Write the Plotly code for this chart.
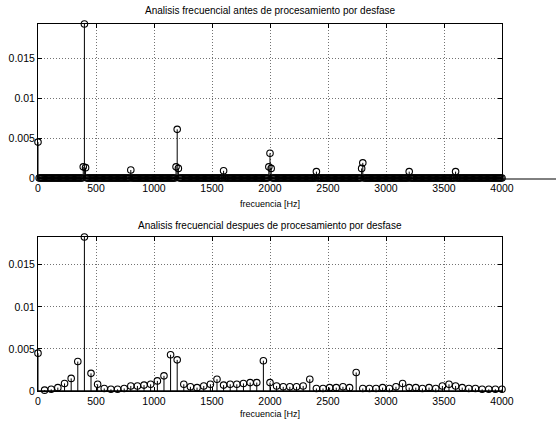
import numpy as np
import plotly.graph_objects as go

# ---------------- data ----------------
# Top plot: spectrum before processing (fine frequency bins, floor ~0, harmonic peaks)
top_bin_step_hz = 10
top_max_hz = 4000
top_peak_hz = [0, 390, 400, 410, 800, 1190, 1200, 1210, 1600, 1990, 2000, 2010,
               2400, 2790, 2800, 3200, 3600]
top_peak_val = [0.0045, 0.0014, 0.0193, 0.0013, 0.0010, 0.0014, 0.0061, 0.0012,
                0.0009, 0.0014, 0.0031, 0.0012, 0.0008, 0.0012, 0.0019, 0.0008, 0.0008]

# Bottom plot: spectrum after processing
bottom_freq_hz = [0, 57, 114, 171, 229, 286, 343, 400, 457, 514, 571, 629, 686, 743, 800,
                  857, 914, 971, 1029, 1086, 1143, 1200, 1257, 1314, 1371, 1429, 1486,
                  1543, 1600, 1657, 1714, 1771, 1829, 1886, 1943, 2000, 2057, 2114, 2171,
                  2229, 2286, 2343, 2400, 2457, 2514, 2571, 2629, 2686, 2743, 2800, 2857,
                  2914, 2971, 3029, 3086, 3143, 3200, 3257, 3314, 3371, 3429, 3486, 3543,
                  3600, 3657, 3714, 3771, 3829, 3886, 3943, 4000]
bottom_val = [0.0045, 0.0001, 0.0002, 0.0004, 0.0009, 0.0015, 0.0035, 0.0183, 0.0021, 0.0008,
              0.0003, 0.0002, 0.0002, 0.0003, 0.0006, 0.0006, 0.0007, 0.0008, 0.0012, 0.0018,
              0.0043, 0.0037, 0.0008, 0.0005, 0.0004, 0.0006, 0.0008, 0.0014, 0.0007, 0.0008,
              0.0008, 0.0009, 0.0010, 0.0010, 0.0036, 0.0010, 0.0006, 0.0005, 0.0005, 0.0005,
              0.0006, 0.0014, 0.0003, 0.0003, 0.0004, 0.0004, 0.0005, 0.0004, 0.0022, 0.0003,
              0.0003, 0.0003, 0.0004, 0.0003, 0.0005, 0.0009, 0.0004, 0.0004, 0.0003, 0.0004,
              0.0003, 0.0006, 0.0008, 0.0006, 0.0004, 0.0003, 0.0003, 0.0002, 0.0002, 0.0002,
              0.0002]

x_ticks = [0, 500, 1000, 1500, 2000, 2500, 3000, 3500, 4000]
y_ticks = [0, 0.005, 0.01, 0.015]
y_tick_labels = ["0", "0.005", "0.01", "0.015"]

title_top = "Analisis frecuencial antes de procesamiento por desfase"
title_bottom = "Analisis frecuencial despues de procesamiento por desfase"
x_label = "frecuencia [Hz]"

# ---------------- build top spectrum ----------------
top_freq = np.arange(0, top_max_hz + top_bin_step_hz, top_bin_step_hz)
top_val = np.zeros(len(top_freq))
for f, v in zip(top_peak_hz, top_peak_val):
    top_val[int(round(f / top_bin_step_hz))] = v


def stem_lines(xs, ys):
    lx, ly = [], []
    for x, y in zip(xs, ys):
        if y > 0:
            lx += [x, x, None]
            ly += [0, y, None]
    return lx, ly


W, H = 558, 424
FONT = "Liberation Sans, Arial, sans-serif"
x0p, x1p = 38 / W, 502 / W
top_dom = [1 - 178 / H, 1 - 24 / H]
bot_dom = [1 - 391 / H, 1 - 237 / H]

fig = go.Figure()

for (xs, ys, xa, ya) in [(top_freq, top_val, "x", "y"), (bottom_freq_hz, bottom_val, "x2", "y2")]:
    lx, ly = stem_lines(xs, ys)
    fig.add_trace(go.Scatter(x=lx, y=ly, mode="lines", line=dict(color="black", width=1),
                             xaxis=xa, yaxis=ya, showlegend=False, hoverinfo="skip"))
    fig.add_trace(go.Scatter(x=[0, 4000], y=[0, 0], mode="lines",
                             line=dict(color="black", width=1.5),
                             xaxis=xa, yaxis=ya, showlegend=False, hoverinfo="skip"))
    fig.add_trace(go.Scatter(x=list(xs), y=list(ys), mode="markers", cliponaxis=False,
                             marker=dict(symbol="circle-open", size=6.5, color="black",
                                         line=dict(width=1.1)),
                             xaxis=xa, yaxis=ya, showlegend=False))

axis_common = dict(showline=True, mirror="ticks", linecolor="black", linewidth=1,
                   ticks="inside", ticklen=4, tickcolor="black", automargin=False,
                   showgrid=True, gridcolor="rgba(0,0,0,0.55)", griddash="1px,2px", gridwidth=1,
                   zeroline=False, tickfont=dict(family=FONT, size=10.5, color="black"))

fig.update_layout(
    width=W, height=H,
    margin=dict(l=0, r=0, t=0, b=0),
    paper_bgcolor="white", plot_bgcolor="white",
    xaxis=dict(domain=[x0p, x1p], anchor="y", range=[0, 4000], tickvals=x_ticks, **axis_common),
    yaxis=dict(domain=top_dom, anchor="x", range=[0, 0.0193], tickvals=y_ticks,
               ticktext=y_tick_labels, **axis_common),
    xaxis2=dict(domain=[x0p, x1p], anchor="y2", range=[0, 4000], tickvals=x_ticks, **axis_common),
    yaxis2=dict(domain=bot_dom, anchor="x2", range=[0, 0.0183], tickvals=y_ticks,
                ticktext=y_tick_labels, **axis_common),
    annotations=[
        dict(text=title_top, x=270 / W, y=1 - 11 / H, xref="paper", yref="paper",
             showarrow=False, font=dict(family=FONT, size=10, color="black"), yanchor="middle"),
        dict(text=x_label, x=270 / W, y=1 - 204 / H, xref="paper", yref="paper",
             showarrow=False, font=dict(family=FONT, size=9, color="black"), yanchor="middle"),
        dict(text=title_bottom, x=270 / W, y=1 - 225 / H, xref="paper", yref="paper",
             showarrow=False, font=dict(family=FONT, size=10, color="black"), yanchor="middle"),
        dict(text=x_label, x=270 / W, y=1 - 414 / H, xref="paper", yref="paper",
             showarrow=False, font=dict(family=FONT, size=9, color="black"), yanchor="middle"),
    ],
    shapes=[
        dict(type="line", xref="paper", yref="paper", x0=x1p, x1=556 / W,
             y0=1 - 179 / H, y1=1 - 179 / H, line=dict(color="black", width=1)),
    ],
)

fig.write_html("out.html", config={"displayModeBar": False},
               post_script="document.body.style.margin='0';document.body.style.overflow='hidden';")
